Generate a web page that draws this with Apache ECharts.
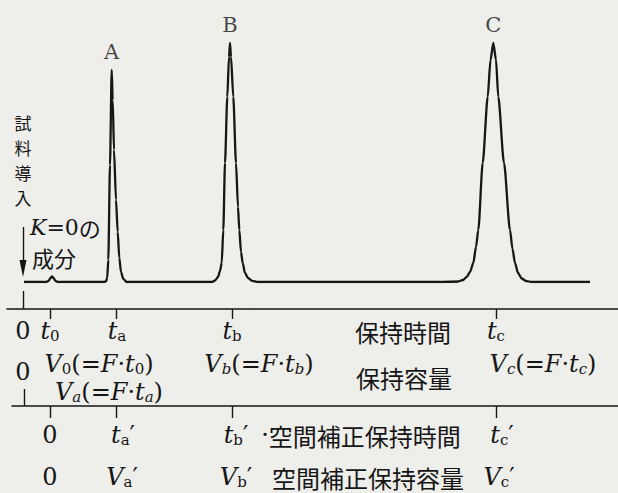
<!DOCTYPE html>
<html>
<head>
<meta charset="utf-8">
<script src="https://cdn.jsdelivr.net/npm/echarts@6/dist/echarts.min.js"></script>
<style>
  html, body { margin: 0; padding: 0; background: #eeeeeb; }
  #chart { width: 618px; height: 493px; }
</style>
</head>
<body>
<div id="chart"></div>
<script>
// chromatogram trace: x along the time axis, h = signal above baseline
const traceX = [24, 46, 48.5, 50.5, 52, 53.5, 55.5, 58,
  104, 106, 107.2, 108.3, 110, 111.7, 112.7, 114, 116, 117.7, 119.3, 121, 123.3, 126.7,
  200, 212, 215, 218, 220, 221.7, 223.3, 225, 227.3, 229, 230, 231, 233.3, 236, 238, 239.3, 241, 242.7, 245, 248, 252, 258,
  440, 458, 463, 466.7, 470, 473.3, 476, 478.3, 482.7, 487.7, 490.5, 493.3, 496, 498.3, 504, 510, 512.5, 515, 518, 521.7, 526, 532, 590];
const traceH = [0, 0, 1, 4, 5.5, 4, 1, 0,
  0, 0.7, 4, 22, 117, 212, 182, 132, 82, 50, 24, 10, 3, 0,
  0, 0, 1.5, 5, 11, 19, 52, 119, 185, 225, 239, 225, 185, 119, 75, 52, 30, 19, 9, 4, 1.2, 0,
  0, 0.5, 2, 5, 10, 19, 35, 52, 119, 185, 222, 239, 222, 185, 119, 52, 33, 19, 9, 3.5, 1, 0, 0];

const peakNames = ['A', 'B', 'C'];
const peakX = [111.7, 230, 493.3];
const peakH = [212, 239, 239];

// tick positions
const injectX = 23;
const timeTicks = [50, 116, 232, 496];     // t0, ta, tb, tc
const adjTicks = [50, 116, 232, 496];      // 0, ta', tb', tc'

// label rows [x, text]
const timeLabels = [[23, '{n|0}'], [50, '{m|t}{s|0}'], [117, '{m|t}{s|a}'], [232, '{m|t}{s|b}'],
  [403, '{j|保持時間}'], [496, '{m|t}{s|c}']];
const volLabels = [[99, '{m|V}{s|0}{n|(=}{m|F}{n|·}{m|t}{s|0}{n|)}'],
  [259, '{m|V}{si|b}{n|(=}{m|F}{n|·}{m|t}{si|b}{n|)}'],
  [543, '{m|V}{si|c}{n|(=}{m|F}{n|·}{m|t}{si|c}{n|)}']];
const volZero = [[23, '{n|0}']];
const volName = [[404, '{j|保持容量}']];
const volA = [[109, '{m|V}{si|a}{n|(=}{m|F}{n|·}{m|t}{si|a}{n|)}']];
const adjTimeLabels = [[50, '{n|0}'], [123, '{m|t}{s|a}{n|′}'], [236, '{m|t}{s|b}{n|′}'],
  [361, '{n|·}{j|空間補正保持時間}'], [502, '{m|t}{s|c}{n|′}']];
const adjVolLabels = [[50, '{n|0}'], [122, '{m|V}{s|a}{n|′}'], [236, '{m|V}{s|b}{n|′}'],
  [368, '{j|空間補正保持容量}'], [499, '{m|V}{s|c}{n|′}']];
const injectText = ['試', '料', '導', '入'];

const ink = '#161616';
const serif = 'DejaVu Serif';
const cjk = 'Noto Sans CJK JP';
const rich = {
  m: { fontFamily: serif, fontStyle: 'italic', fontSize: 24, lineHeight: 24, color: ink },
  n: { fontFamily: serif, fontSize: 24, lineHeight: 24, color: ink },
  s: { fontFamily: serif, fontSize: 15, lineHeight: 15, verticalAlign: 'bottom', color: ink },
  si: { fontFamily: serif, fontStyle: 'italic', fontSize: 15, lineHeight: 15, verticalAlign: 'bottom', color: ink },
  j: { fontFamily: cjk, fontSize: 24, lineHeight: 24, color: ink }
};

const baseY = 282;

function labelRow(rows, offset) {
  const map = {};
  rows.forEach(r => { map[String(r[0])] = r[1]; });
  return {
    type: 'value', gridIndex: 0, min: 0, max: 618, position: 'bottom', offset: offset,
    axisLine: { show: false, onZero: false }, axisTick: { show: false }, splitLine: { show: false },
    axisLabel: {
      customValues: rows.map(r => r[0]),
      formatter: v => map[String(v)] || '',
      margin: 0, lineHeight: 24, rich: rich
    }
  };
}

const chart = echarts.init(document.getElementById('chart'), null, { renderer: 'svg' });

const timeMap = {};
timeLabels.forEach(r => { timeMap[String(r[0])] = r[1]; });
const adjMap = {};
adjTimeLabels.forEach(r => { adjMap[String(r[0])] = r[1]; });

// vertical caption, one character per text
const captionGraphics = injectText.map((ch, i) => ({
  type: 'text', x: 23, y: 122 + i * 25,
  style: { text: ch, font: '17px "Noto Sans CJK JP"', fill: ink, align: 'center', verticalAlign: 'middle' }
}));

chart.setOption({
  backgroundColor: '#eeeeeb',
  animation: false,
  grid: [
    { left: 0, right: 0, top: 0, bottom: 493 - baseY },
    { left: 7, right: 0, top: 0, bottom: 493 - baseY },
    { left: 12, right: 0, top: 0, bottom: 493 - baseY }
  ],
  xAxis: [
    // 0: trace axis (hidden)
    { type: 'value', gridIndex: 0, min: 0, max: 618, show: false },
    // 1: retention time axis
    {
      type: 'value', gridIndex: 1, min: 7, max: 618, position: 'bottom', offset: 27,
      axisLine: { onZero: false, lineStyle: { color: ink, width: 1.6 } },
      axisTick: { customValues: timeTicks, length: 10, lineStyle: { color: ink, width: 1.4 } },
      splitLine: { show: false },
      axisLabel: {
        customValues: timeLabels.map(r => r[0]),
        formatter: v => timeMap[String(v)] || '',
        margin: 10, lineHeight: 24, rich: rich
      }
    },
    // 2: corrected axis
    {
      type: 'value', gridIndex: 2, min: 12, max: 618, position: 'bottom', offset: 124,
      axisLine: { onZero: false, lineStyle: { color: ink, width: 1.6 } },
      axisTick: { customValues: adjTicks, length: 12, lineStyle: { color: ink, width: 1.4 } },
      splitLine: { show: false },
      axisLabel: {
        customValues: adjTimeLabels.map(r => r[0]),
        formatter: v => adjMap[String(v)] || '',
        margin: 17, lineHeight: 24, rich: rich
      }
    },
    // 3,4: upward ticks at the injection point
    {
      type: 'value', gridIndex: 0, min: 0, max: 618, position: 'bottom', offset: 27,
      axisLine: { show: false, onZero: false }, splitLine: { show: false }, axisLabel: { show: false },
      axisTick: { customValues: [injectX], inside: true, length: 18, lineStyle: { color: ink, width: 1.4 } }
    },
    {
      type: 'value', gridIndex: 0, min: 0, max: 618, position: 'bottom', offset: 124,
      axisLine: { show: false, onZero: false }, splitLine: { show: false }, axisLabel: { show: false },
      axisTick: { customValues: [injectX + 1], inside: true, length: 17, lineStyle: { color: ink, width: 1.4 } }
    },
    labelRow(volLabels, 70),
    labelRow(volZero, 78),
    labelRow(volName, 83),
    labelRow(volA, 98),
    labelRow(adjVolLabels, 183)
  ],
  yAxis: [
    { type: 'value', gridIndex: 0, min: 0, max: baseY, show: false },
    { type: 'value', gridIndex: 1, min: 0, max: baseY, show: false },
    { type: 'value', gridIndex: 2, min: 0, max: baseY, show: false }
  ],
  graphic: captionGraphics.concat([
    {
      type: 'text', left: 30, top: 216,
      style: {
        text: '{k|K}{e|=0}{j|の}',
        rich: {
          k: { fontFamily: serif, fontStyle: 'italic', fontSize: 22, lineHeight: 24, fill: ink },
          e: { fontFamily: serif, fontSize: 22, lineHeight: 24, fill: ink },
          j: { fontFamily: cjk, fontSize: 22, lineHeight: 24, fill: ink }
        }
      }
    },
    {
      type: 'text', left: 32, top: 245,
      style: { text: '成分', font: '22px "Noto Sans CJK JP"', lineHeight: 24, fill: ink }
    }
  ]),
  series: [
    {
      type: 'line', xAxisIndex: 0, yAxisIndex: 0,
      data: traceX.map((x, i) => [x, traceH[i]]),
      showSymbol: false, smooth: 0.25, smoothMonotone: 'x',
      lineStyle: { color: ink, width: 2.3 },
      silent: true,
      // sample injection arrow
      markLine: {
        silent: true, animation: false,
        symbol: ['none', 'none'],
        lineStyle: { color: ink, width: 1.4, type: 'solid' },
        label: { show: false },
        data: [[{ coord: [injectX, 55] }, { coord: [injectX, 14] }]]
      },
      markPoint: {
        silent: true, animation: false,
        symbol: 'triangle', symbolSize: [7, 17], symbolRotate: 180,
        itemStyle: { color: ink },
        label: { show: false },
        data: [{ coord: [injectX, 13.5] }]
      }
    },
    {
      type: 'scatter', xAxisIndex: 0, yAxisIndex: 0,
      data: peakX.map((x, i) => [x, peakH[i]]),
      symbolSize: 1, itemStyle: { color: 'rgba(0,0,0,0)' }, silent: true,
      label: {
        show: true, position: 'top', distance: 7,
        formatter: p => peakNames[p.dataIndex],
        fontFamily: serif, fontSize: 21, color: ink
      }
    }
  ]
});
</script>
</body>
</html>
